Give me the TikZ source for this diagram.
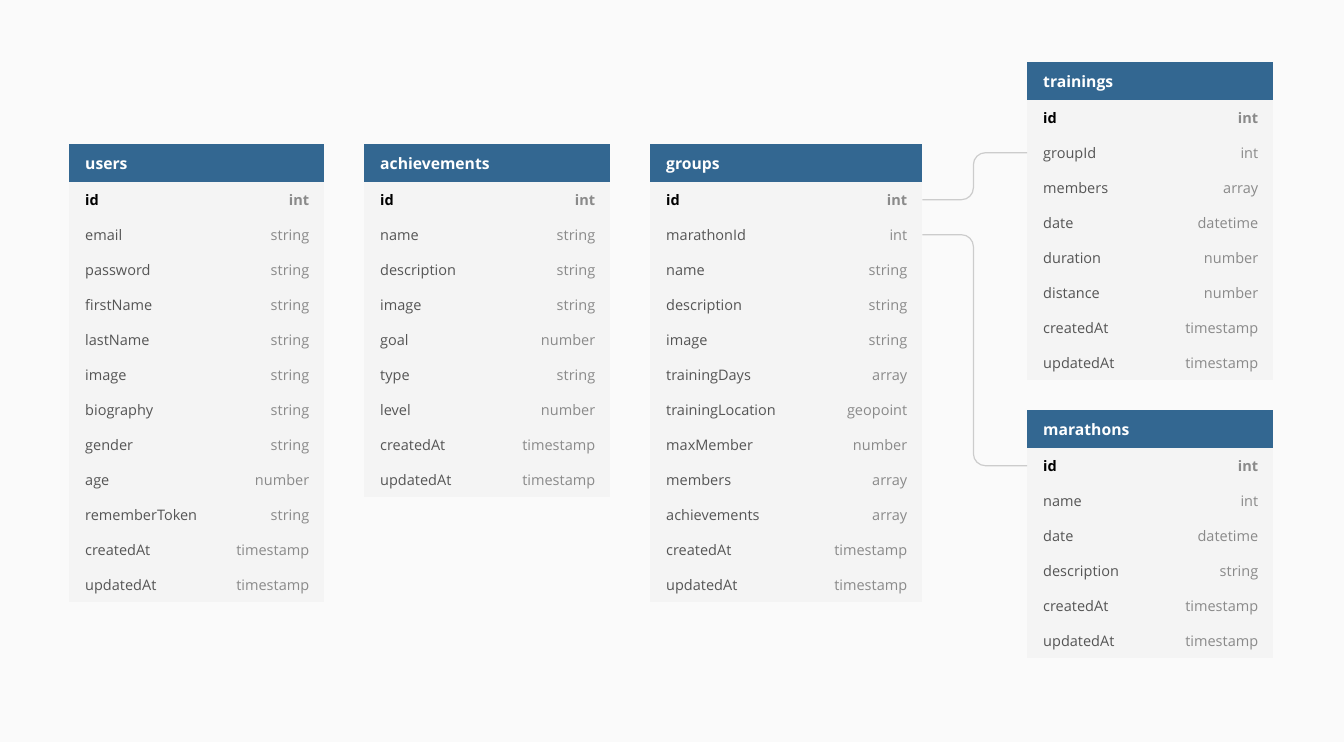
\documentclass[tikz,border=0pt]{standalone}
\usepackage{fontspec}
\setmainfont{Open Sans}
\definecolor{bg}{HTML}{FAFAFA}
\definecolor{bodyc}{HTML}{F4F4F4}
\definecolor{head}{HTML}{336791}
\definecolor{fname}{HTML}{555555}
\definecolor{ftype}{HTML}{8A8A8A}
\definecolor{conn}{HTML}{CCCCCC}
\tikzset{
  hdrtext/.style={anchor=west, text=white, inner sep=0pt, text height=11pt, text depth=0pt, font=\fontsize{15.7}{18}\selectfont\bfseries},
  rowbox/.style={draw=none, inner sep=0pt, minimum height=35pt},
  fieldtext/.style={anchor=west, text=fname, inner sep=0pt, text height=10pt, text depth=0pt, font=\fontsize{14.5}{17}\selectfont},
  typetext/.style={anchor=east, text=ftype, inner sep=0pt, text height=10pt, text depth=0pt, font=\fontsize{14.5}{17}\selectfont},
  connline/.style={draw=conn, line width=1.2pt, rounded corners=12pt}
}
\newcommand\dbtable[7]{%
  \fill[head] (#2,#3) rectangle ++(#4,38);
  \node[hdrtext] (#1-h) at (#2+16,#3+20) {#5};
  \fill[bodyc] (#2,#3+38) rectangle ++(#4,35*#6);
  \foreach \f/\t [count=\i] in {#7} {
    \node[rowbox, minimum width=#4pt, anchor=north west] (#1-\i) at (#2,{#3+38+35*(\i-1)}) {};
    \ifnum\i=1
      \node[fieldtext, text=black, font=\fontsize{14.5}{17}\selectfont\bfseries] at ([xshift=16pt,yshift=-1pt]#1-\i.west) {\f};
      \node[typetext, font=\fontsize{14.5}{17}\selectfont\bfseries] at ([xshift=-15pt,yshift=-1pt]#1-\i.east) {\t};
    \else
      \node[fieldtext] at ([xshift=16pt,yshift=-1pt]#1-\i.west) {\f};
      \node[typetext] at ([xshift=-15pt,yshift=-1pt]#1-\i.east) {\t};
    \fi
  }
}
\begin{document}
\begin{tikzpicture}[x=1pt,y=-1pt]
\fill[bg] (0,0) rectangle (1344,742);
\useasboundingbox (0,0) rectangle (1344,742);
\dbtable{u}{69}{144}{255}{users}{12}{id/int,email/string,password/string,firstName/string,lastName/string,image/string,biography/string,gender/string,age/number,rememberToken/string,createdAt/timestamp,updatedAt/timestamp}
\dbtable{a}{364}{144}{246}{achievements}{9}{id/int,name/string,description/string,image/string,goal/number,type/string,level/number,createdAt/timestamp,updatedAt/timestamp}
\dbtable{g}{650}{144}{272}{groups}{12}{id/int,marathonId/int,name/string,description/string,image/string,trainingDays/array,trainingLocation/geopoint,maxMember/number,members/array,achievements/array,createdAt/timestamp,updatedAt/timestamp}
\dbtable{t}{1027}{62}{246}{trainings}{8}{id/int,groupId/int,members/array,date/datetime,duration/number,distance/number,createdAt/timestamp,updatedAt/timestamp}
\dbtable{m}{1027}{410}{246}{marathons}{6}{id/int,name/int,date/datetime,description/string,createdAt/timestamp,updatedAt/timestamp}
\draw[connline] (g-1.east) -- ++(51,0) |- (t-2.west);
\draw[connline] (g-2.east) -- ++(51,0) |- (m-1.west);
\end{tikzpicture}
\end{document}
